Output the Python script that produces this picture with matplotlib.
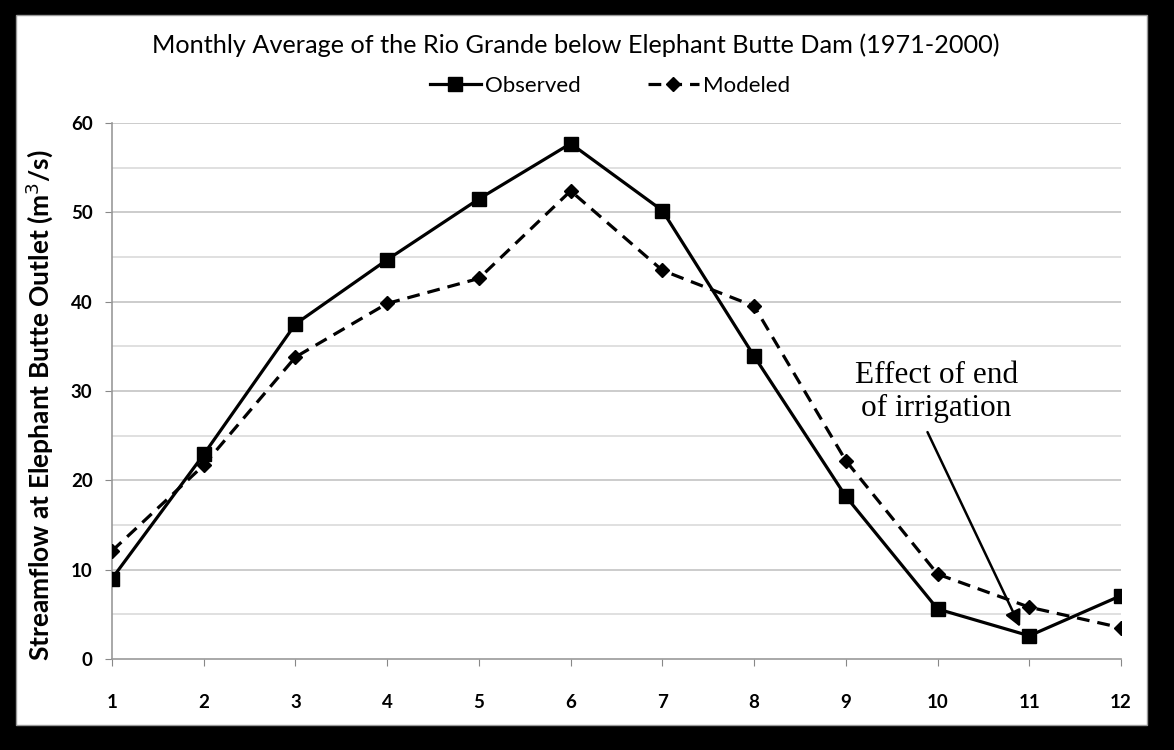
import numpy as np
import matplotlib.pyplot as plt
from matplotlib.patches import Rectangle

months = [1, 2, 3, 4, 5, 6, 7, 8, 9, 10, 11, 12]
observed = [9.0, 22.9, 37.5, 44.7, 51.5, 57.7, 50.2, 33.9, 18.2, 5.6, 2.6, 7.1]
modeled = [12.1, 21.7, 33.8, 39.8, 42.6, 52.4, 43.5, 39.5, 22.2, 9.5, 5.8, 3.5]

plt.rcParams['font.family'] = ['Lato', 'DejaVu Sans']

fig = plt.figure(figsize=(11.74, 7.5), dpi=100)
fig.patch.set_facecolor('black')
# white chart area inside the black frame
fig.patches.append(Rectangle((0.0136, 0.0333), 0.9634, 0.9467, transform=fig.transFigure,
                             facecolor='white', edgecolor='#999999', lw=1, zorder=-5))

ax = fig.add_axes([0.0954, 0.1213, 0.8595, 0.7147])
ax.set_facecolor('white')

for g in range(5, 61, 5):
    c = '#c4c4c4' if g % 10 == 0 else '#dadada'
    ax.axhline(g, color=c, lw=1.2, zorder=1)

ax.plot(months, observed, '-', color='black', lw=2.3, marker='s', markersize=10,
        label='Observed', zorder=3)
ax.plot(months, modeled, '--', color='black', lw=2.3, marker='D', markersize=7,
        dashes=(4, 2.5), label='Modeled', zorder=3)

ax.set_xlim(1, 12)
ax.set_ylim(0, 60)
ax.set_xticks(months)
ax.set_yticks(range(0, 61, 10))
ax.tick_params(axis='both', colors='#888888', labelcolor='black', labelsize=13.5,
               direction='out', length=5)
ax.tick_params(axis='x', pad=20)
ax.tick_params(axis='y', pad=9)
for lab in ax.get_xticklabels() + ax.get_yticklabels():
    lab.set_fontweight('bold')

for s in ['top', 'right']:
    ax.spines[s].set_visible(False)
ax.spines['left'].set_color('#999999')
ax.spines['bottom'].set_color('#999999')
ax.spines['left'].set_linewidth(1.2)
ax.spines['bottom'].set_linewidth(1.2)
for s in ['left', 'bottom']:
    ax.spines[s].set_zorder(2)

ax.set_ylabel('Streamflow at Elephant Butte Outlet (m$^3$/s)', fontsize=19,
              fontweight='bold')
ax.yaxis.set_label_coords(-0.056, 0.474)

fig.text(0.49, 0.94, 'Monthly Average of the Rio Grande below Elephant Butte Dam (1971-2000)',
         ha='center', va='center', fontsize=18.2)

ax.legend(loc='upper center', bbox_to_anchor=(0.4935, 1.125), ncol=2, frameon=False,
          fontsize=16, handlelength=2.3, columnspacing=3.0, handletextpad=0.2)

# callout
ax.text(9.99, 29.9, 'Effect of end\nof irrigation', ha='center', va='center',
        fontsize=22.5, family='Liberation Serif', linespacing=1.2)
ax.annotate('', xy=(10.9, 3.6), xytext=(9.89, 25.4),
            arrowprops=dict(arrowstyle='-|>', color='black', lw=1.8,
                            mutation_scale=24, shrinkA=0, shrinkB=0))

plt.savefig('out.png', dpi=100, facecolor=fig.get_facecolor())
